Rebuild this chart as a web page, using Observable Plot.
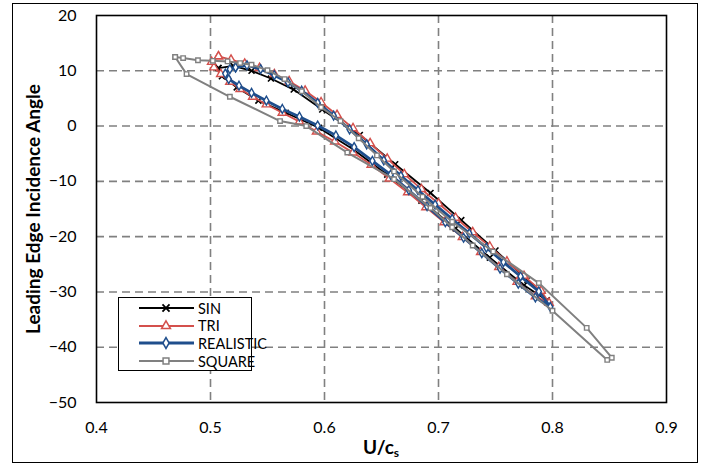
<!DOCTYPE html>
<html>
<head>
<meta charset="utf-8">
<script src="https://cdn.jsdelivr.net/npm/d3@7"></script>
<script src="https://cdn.jsdelivr.net/npm/@observablehq/plot@0.6"></script>
<style>
  html, body { margin: 0; padding: 0; background: #fff; }
  #wrap { position: relative; width: 702px; height: 465px; font-family: Lato, "Open Sans", sans-serif; }
  #border { position: absolute; left: 12px; top: 3px; width: 686px; height: 460px; border: 1.5px solid #000; box-sizing: border-box; pointer-events: none; }
  #xlabel { position: absolute; left: 96px; width: 570px; top: 435px; text-align: center; font-weight: bold; font-size: 19px; }
  #xlabel sub { font-size: 12px; vertical-align: -3px; }
  #legend { position: absolute; left: 118px; top: 297px; width: 134px; height: 74px; border: 1.5px solid #000; background: #fff; box-sizing: border-box; }
  .row { position: absolute; left: 0; height: 18px; display: flex; align-items: center; font-size: 14.5px; }
  .row svg { margin-left: 20px; margin-right: 3px; }
</style>
</head>
<body>
<div id="wrap">
  <div id="chart"></div>
  <div id="xlabel">U/c<sub>s</sub></div>
  <div id="legend"></div>
  <div id="border"></div>
</div>
<script>
// ---- data ----
const seriesNames = ["SIN", "TRI", "REALISTIC", "SQUARE"];
const seriesColors = ["#000000", "#d4504c", "#1f4e8c", "#808080"];
const xTicks = [0.4, 0.5, 0.6, 0.7, 0.8, 0.9];
const yTicks = [20, 10, 0, -10, -20, -30, -40, -50];

const sinX = [0.507,0.520,0.536,0.553,0.573,0.598,0.631,0.662,0.693,0.720,0.750,0.778,0.795,0.775,0.745,0.715,0.685,0.655,0.625,0.595,0.566,0.542,0.523,0.510,0.507];
const sinY = [10.5,10.9,10.0,8.6,6.6,3.0,-1.6,-6.9,-12.1,-17.0,-22.5,-27.8,-31.5,-28.8,-23.8,-18.5,-13.5,-8.8,-4.2,-0.3,2.4,4.6,7.0,9.0,10.5];

const triX = [0.507,0.518,0.530,0.543,0.556,0.569,0.583,0.597,0.611,0.625,0.640,0.655,0.670,0.685,0.700,0.715,0.730,0.745,0.760,0.775,0.790,0.797,0.785,0.769,0.753,0.737,0.721,0.705,0.689,0.673,0.657,0.641,0.625,0.609,0.593,0.578,0.563,0.549,0.537,0.526,0.517,0.509,0.503,0.501,0.507];
const triY = [12.6,12.0,11.3,10.5,9.4,8.1,6.4,4.3,2.0,-0.4,-3.1,-5.9,-8.7,-11.4,-14.0,-16.6,-19.2,-21.8,-24.5,-27.1,-29.8,-32.0,-30.8,-28.2,-25.5,-22.8,-20.1,-17.4,-14.7,-12.0,-9.5,-7.0,-4.8,-2.8,-1.0,0.8,2.4,3.9,5.3,6.7,8.0,9.4,10.6,11.6,12.6];

const realX = [0.522,0.532,0.544,0.556,0.568,0.580,0.594,0.608,0.622,0.637,0.652,0.667,0.682,0.697,0.712,0.727,0.742,0.757,0.772,0.788,0.798,0.785,0.770,0.754,0.738,0.722,0.706,0.690,0.674,0.658,0.642,0.626,0.610,0.594,0.578,0.563,0.549,0.536,0.525,0.516,0.513,0.517,0.522];
const realY = [10.6,11.0,10.3,9.2,7.9,6.4,4.2,1.9,-0.6,-3.3,-6.2,-9.0,-11.6,-14.2,-16.8,-19.4,-22.0,-24.6,-27.2,-29.9,-32.7,-31.0,-28.5,-25.8,-23.0,-20.2,-17.4,-14.5,-11.6,-8.8,-6.3,-3.8,-1.7,0.1,1.7,3.1,4.6,6.0,7.3,8.5,9.5,10.3,10.6];

const sqX = [0.469,0.476,0.489,0.502,0.515,0.526,0.536,0.550,0.565,0.580,0.597,0.614,0.630,0.646,0.661,0.686,0.712,0.748,0.788,0.830,0.852,0.848,0.800,0.760,0.730,0.712,0.693,0.661,0.620,0.584,0.561,0.517,0.479,0.469];
const sqY = [12.5,12.3,11.9,11.8,11.7,11.4,11.1,10.1,8.5,6.3,3.4,0.9,-2.2,-5.3,-8.2,-12.8,-17.3,-22.7,-28.4,-36.5,-41.9,-42.3,-33.4,-26.8,-21.6,-18.3,-14.8,-9.6,-4.8,0.0,0.9,5.3,9.4,12.5];

const xs = [sinX, triX, realX, sqX];
const ys = [sinY, triY, realY, sqY];
const symbols = ["times", "triangle", "diamond", "square"];
const lineWidths = [1.8, 1.8, 2.8, 2.0];
const dotR = [2.8, 3.1, 2.7, 2.5];

const data = seriesNames.map((name, i) => xs[i].map((x, j) => ({series: name, x, y: ys[i][j], idx: j})));

// ---- chart ----
const font = "Lato, 'Open Sans', sans-serif";
const marks = [
  Plot.gridX(xTicks.slice(1, -1), {stroke: "#808080", strokeOpacity: 1, strokeWidth: 1.6, strokeDasharray: "8,5"}),
  Plot.gridY(yTicks.slice(1, -1), {stroke: "#808080", strokeOpacity: 1, strokeWidth: 1.6, strokeDasharray: "8,5"}),
  Plot.axisX(xTicks, {tickSize: 0, tickPadding: 19, fontSize: 16, tickFormat: d3.format(".1f"), label: null}),
  Plot.axisY(yTicks, {tickSize: 0, tickPadding: 20, fontSize: 16, label: null}),
  Plot.text(["Leading Edge Incidence Angle"], {frameAnchor: "left", textAnchor: "middle", rotate: -90, dx: -63, fontWeight: "bold", fontSize: 19, fill: "#000"})
];
data.forEach((d, i) => {
  marks.push(Plot.line(d, {x: "x", y: "y", stroke: seriesColors[i], strokeWidth: lineWidths[i], curve: "linear"}));
  marks.push(Plot.dot(d, {x: "x", y: "y", symbol: () => symbols[i], stroke: seriesColors[i], fill: i === 0 ? "none" : "white", strokeWidth: i === 0 ? 1.6 : 1.4, r: dotR[i]}));
});
marks.push(Plot.frame({stroke: "#000", strokeWidth: 1.6}));

const chart = Plot.plot({
  width: 702,
  height: 465,
  marginLeft: 96,
  marginRight: 36,
  marginTop: 15,
  marginBottom: 63,
  style: {fontFamily: font, color: "#000", background: "white"},
  x: {domain: [0.4, 0.9]},
  y: {domain: [-50, 20]},
  marks
});
document.getElementById("chart").appendChild(chart);

// ---- legend ----
const legend = document.getElementById("legend");
const symMap = {times: d3.symbolTimes || d3.symbolCross, triangle: d3.symbolTriangle, diamond: d3.symbolDiamond, square: d3.symbolSquare};
seriesNames.forEach((name, i) => {
  const row = document.createElement("div");
  row.className = "row";
  row.style.top = (1 + i * 17.7) + "px";
  const ns = "http://www.w3.org/2000/svg";
  const svg = document.createElementNS(ns, "svg");
  svg.setAttribute("width", 56);
  svg.setAttribute("height", 18);
  const line = document.createElementNS(ns, "line");
  line.setAttribute("x1", 0); line.setAttribute("x2", 55);
  line.setAttribute("y1", 9); line.setAttribute("y2", 9);
  line.setAttribute("stroke", seriesColors[i]);
  line.setAttribute("stroke-width", lineWidths[i]);
  svg.appendChild(line);
  const p = document.createElementNS(ns, "path");
  p.setAttribute("d", d3.symbol(symMap[symbols[i]], Math.PI * 3.3 * 3.3)());
  p.setAttribute("transform", "translate(27,9)");
  p.setAttribute("stroke", seriesColors[i]);
  p.setAttribute("fill", i === 0 ? "none" : "white");
  p.setAttribute("stroke-width", i === 0 ? 1.8 : 1.5);
  svg.appendChild(p);
  row.appendChild(svg);
  const t = document.createElement("span");
  t.textContent = name;
  row.appendChild(t);
  legend.appendChild(row);
});
</script>
</body>
</html>
